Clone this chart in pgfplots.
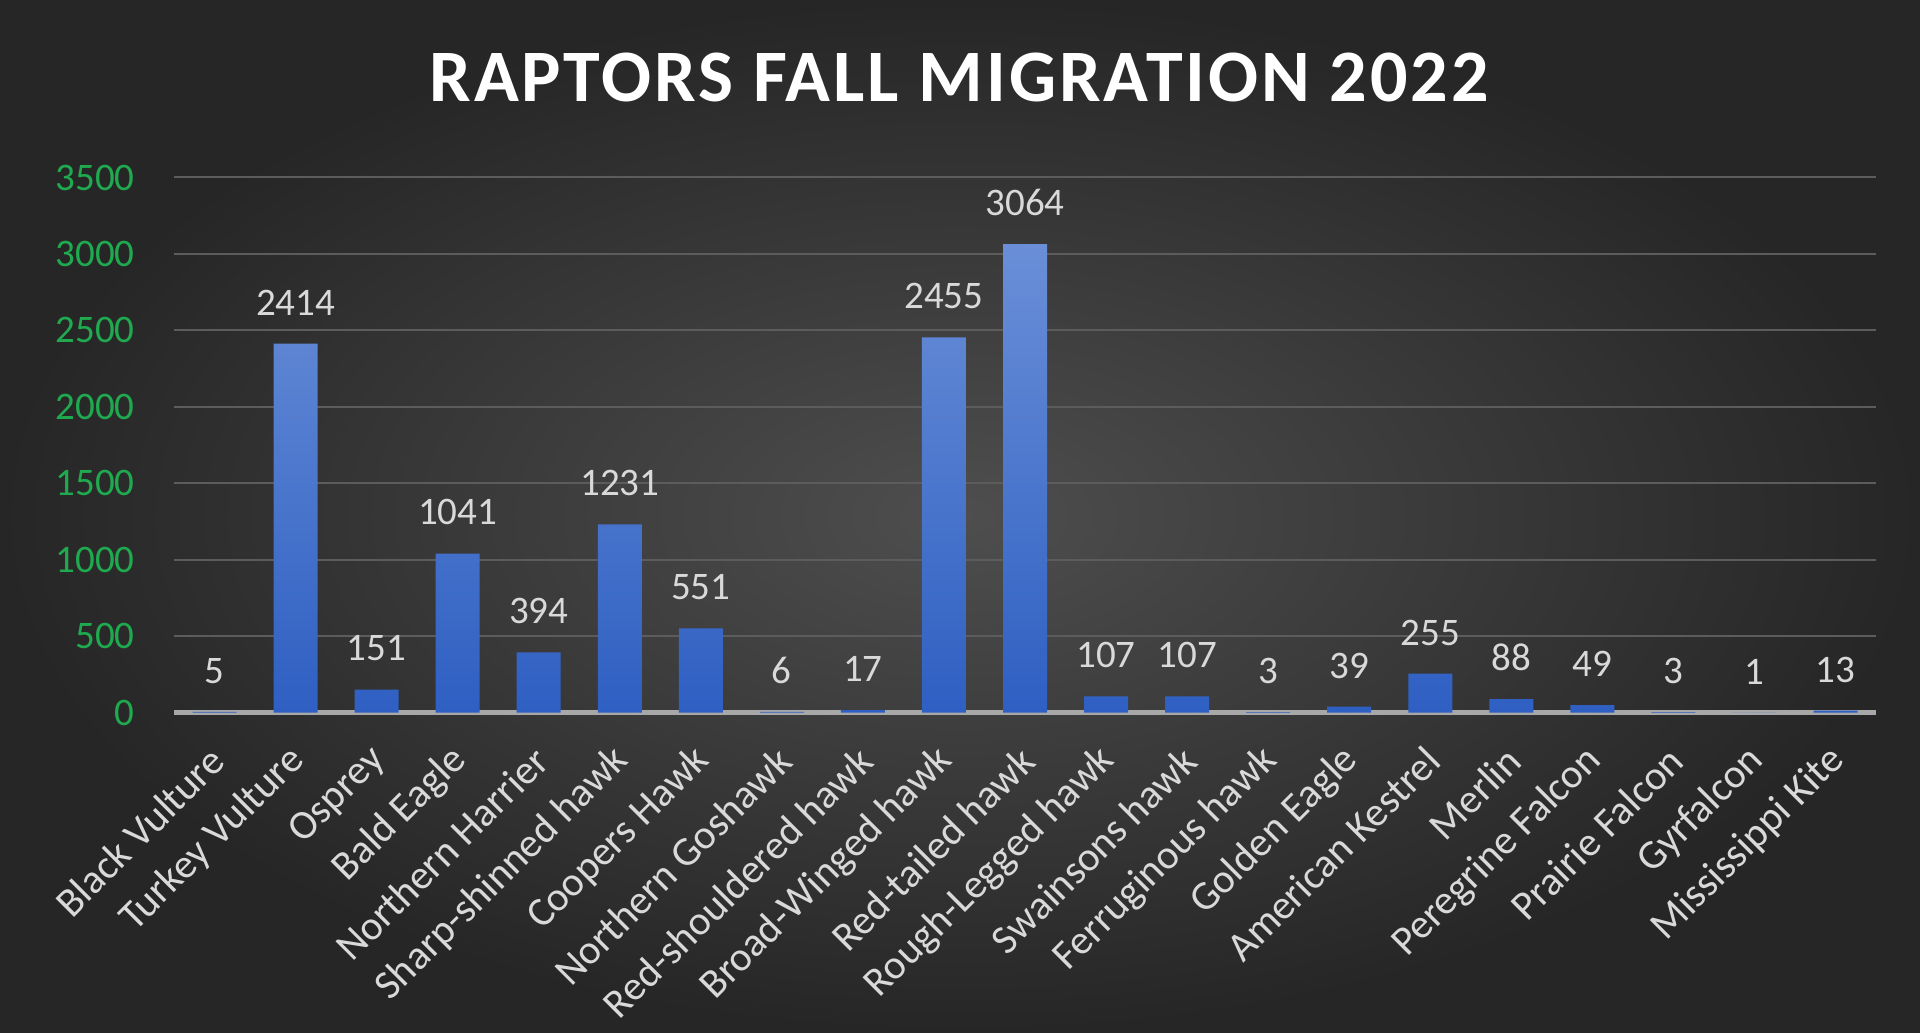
\documentclass[border=0pt]{standalone}
\usepackage{fontspec}
\setmainfont{Carlito}
\newfontfamily\titlefont[LetterSpace=4]{Carlito}
\usepackage{pgfplots}
\pgfplotsset{compat=1.18}
\definecolor{bgin}{HTML}{4E4E4E}
\definecolor{bgout}{HTML}{262626}
\definecolor{bartop}{HTML}{6A8FD8}
\definecolor{barbot}{HTML}{2E5FC2}
\definecolor{tickgreen}{HTML}{1FAA4F}
\definecolor{labgray}{HTML}{D9D9D9}
\definecolor{gridc}{HTML}{5C5C5C}
\definecolor{zeroc}{HTML}{A8A8A8}
\begin{document}
\begin{tikzpicture}[x=1bp,y=1bp]
\shade[inner color=bgin, outer color=bgout] (0,0) rectangle (960,516.5);
\useasboundingbox (0,0) rectangle (960,516.5);
\node[anchor=base, text=white, font=\titlefont\bfseries\fontsize{37bp}{40bp}\selectfont, inner sep=0pt] at (479.5,465.5) {RAPTORS FALL MIGRATION 2022};
\begin{axis}[
  at={(87bp,160.15bp)}, anchor=south west,
  scale only axis, width=851bp, height=267.6bp,
  xmin=-0.5, xmax=20.5, ymin=0, ymax=3500,
  clip=false,
  axis line style={draw=none},
  major tick length=0pt,
  ytick={0,500,...,3500},
  ymajorgrids,
  grid style={color=gridc, line width=1bp},
  extra y ticks={0},
  extra y tick labels={},
  extra y tick style={grid style={color=zeroc, line width=2.5bp}},
  /pgf/number format/1000 sep={},
  /pgf/number format/assume math mode=true,
  yticklabel style={text=tickgreen, font=\fontsize{19.5bp}{22bp}\selectfont, anchor=east, inner sep=0pt, xshift=-19.5bp},
  xtick={0,...,20},
  xticklabels={Black Vulture, Turkey Vulture, Osprey, Bald Eagle, Northern Harrier, Sharp-shinned hawk, Coopers Hawk, Northern Goshawk, Red-shouldered hawk, Broad-Winged hawk, Red-tailed hawk, Rough-Legged hawk, Swainsons hawk, Ferruginous hawk, Golden Eagle, American Kestrel, Merlin, Peregrine Falcon, Prairie Falcon, Gyrfalcon, Mississippi Kite},
  xticklabel style={text=labgray, font=\fontsize{20.5bp}{23bp}\selectfont, rotate=45, anchor=east, inner sep=0pt, xshift=-13.6bp, yshift=-15.6bp},
  ybar, bar width=22bp,
  nodes near coords,
  nodes near coords style={text=labgray, font=\fontsize{19.5bp}{22bp}\selectfont, anchor=south, inner sep=0pt, yshift=14bp},
]
\addplot[draw=none, top color=bartop, bottom color=barbot] coordinates {
(0,5) (1,2414) (2,151) (3,1041) (4,394) (5,1231) (6,551) (7,6) (8,17) (9,2455) (10,3064) (11,107) (12,107) (13,3) (14,39) (15,255) (16,88) (17,49) (18,3) (19,1) (20,13)
};
\end{axis}
\end{tikzpicture}
\end{document}
